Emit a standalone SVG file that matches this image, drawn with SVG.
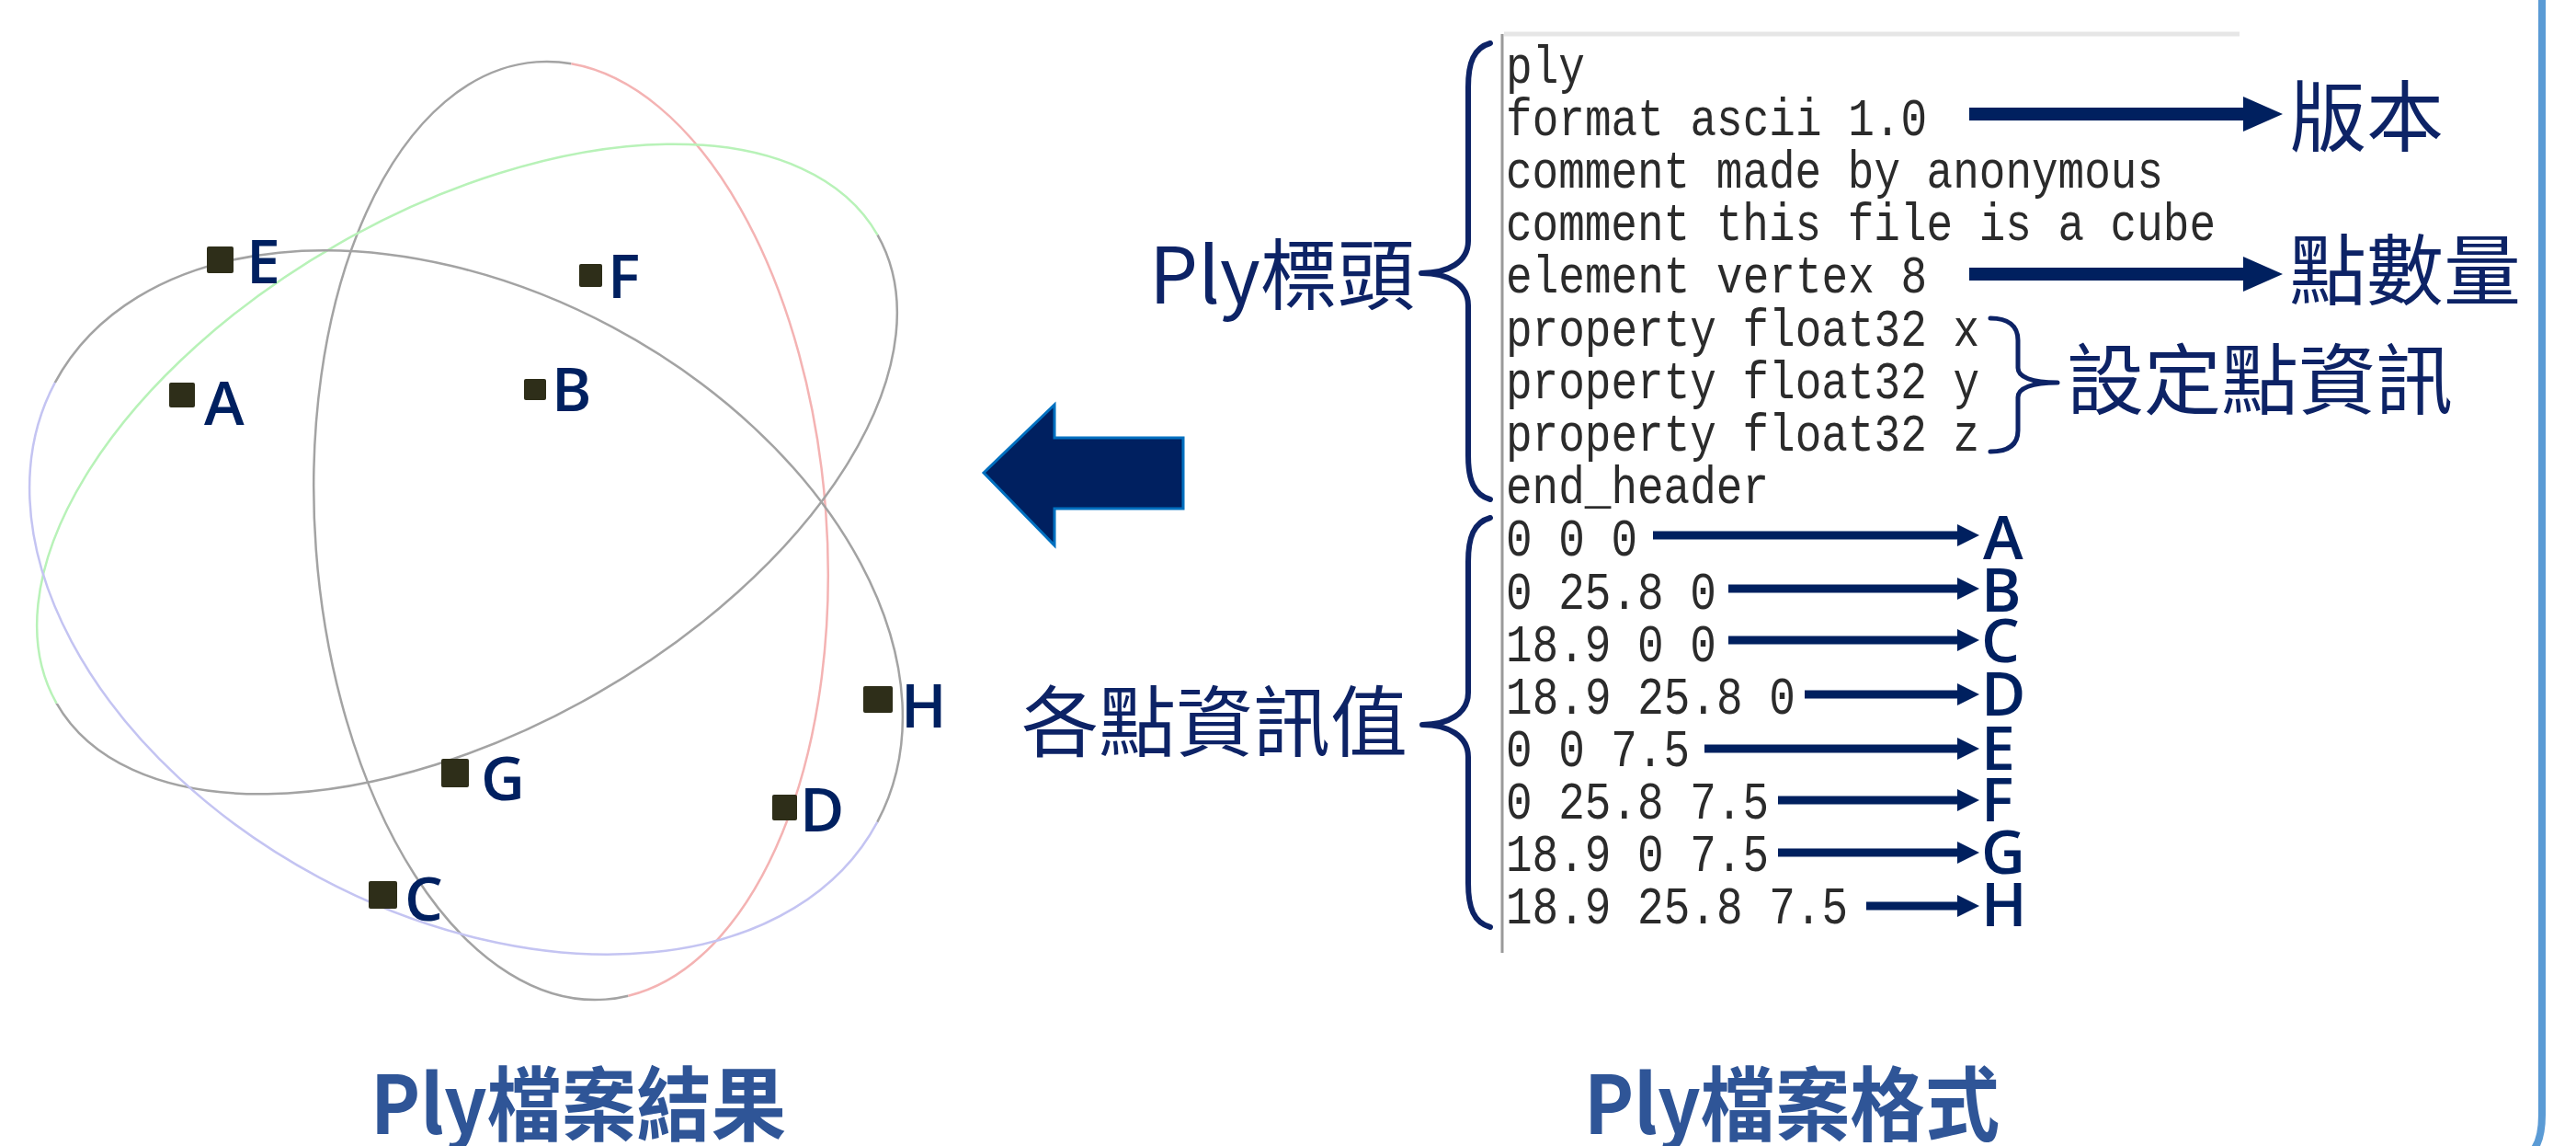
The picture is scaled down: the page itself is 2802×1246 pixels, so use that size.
<svg xmlns="http://www.w3.org/2000/svg" width="2802" height="1246" viewBox="0 0 2802 1246">
<style>
.gray{fill:none;stroke:#a3a3a3;stroke-width:2.5}
.pink{fill:none;stroke:#f4b3b3;stroke-width:2.5}
.green{fill:none;stroke:#b8f2b8;stroke-width:2.5}
.blue{fill:none;stroke:#c4c4f2;stroke-width:2.5}
.pt{fill:#2e2e19}
.lbl{font-family:"Open Sans","Liberation Sans",sans-serif;font-weight:600;font-size:66px;fill:#002060}
.code{font-family:"Liberation Mono","DejaVu Sans Mono",monospace;font-size:58px;fill:#2b2b2b}
.cjk{font-family:"Noto Sans CJK TC","Noto Sans",sans-serif;font-size:84px;fill:#0d2366}
.title{font-family:"Noto Sans CJK TC","Noto Sans",sans-serif;font-weight:700;font-size:88px;fill:#2f5597}
.brace{fill:none;stroke:#0d2366;stroke-width:6;stroke-linecap:round;stroke-linejoin:round}
.thin{stroke:#00205f;stroke-width:9;fill:none}
.thick{stroke:#00205f;stroke-width:14;fill:none}
</style>
<defs>
<marker id="hs" markerUnits="userSpaceOnUse" markerWidth="24" markerHeight="24" viewBox="0 0 24 24" refX="1" refY="12" orient="auto"><path d="M0,0 L24,12 L0,24 z" fill="#00205f"/></marker>
<marker id="hl" markerUnits="userSpaceOnUse" markerWidth="44" markerHeight="40" viewBox="0 0 44 40" refX="1" refY="20" orient="auto"><path d="M0,1 L43,20 L0,39 z" fill="#00205f"/></marker>
</defs>

<g id="trackball">
<g transform="translate(621,577) rotate(-4.2)">
<ellipse class="gray" cx="0" cy="0" rx="278" ry="511" pathLength="100" stroke-dasharray="0 24 52.5 23.5"/>
<ellipse class="pink" cx="0" cy="0" rx="278" ry="511" pathLength="100" stroke-dasharray="24 52.5 23.5"/>
</g>
<g transform="translate(508,510) rotate(-29.7)">
<ellipse class="gray" cx="0" cy="0" rx="514" ry="282" pathLength="100" stroke-dasharray="50 50"/>
<ellipse class="green" cx="0" cy="0" rx="514" ry="282" pathLength="100" stroke-dasharray="0 50 50"/>
</g>
<g transform="translate(507,655) rotate(28.1)">
<ellipse class="gray" cx="0" cy="0" rx="507" ry="339" pathLength="100" stroke-dasharray="0 50 50"/>
<ellipse class="blue" cx="0" cy="0" rx="507" ry="339" pathLength="100" stroke-dasharray="50 50"/>
</g>
</g>

<g id="pA"><rect class="pt" x="184" y="416" width="28" height="27" rx="2"/><text class="lbl" x="222" y="462">A</text></g>
<g id="pB"><rect class="pt" x="570" y="412" width="24" height="23" rx="2"/><text class="lbl" x="600" y="447">B</text></g>
<g id="pC"><rect class="pt" x="401" y="958" width="31" height="30" rx="2"/><text class="lbl" x="440" y="1001">C</text></g>
<g id="pD"><rect class="pt" x="840" y="864" width="27" height="28" rx="2"/><text class="lbl" x="870" y="904">D</text></g>
<g id="pE"><rect class="pt" x="225" y="268" width="29" height="29" rx="2"/><text class="lbl" x="268" y="308">E</text></g>
<g id="pF"><rect class="pt" x="630" y="287" width="25" height="25" rx="2"/><text class="lbl" x="661" y="324">F</text></g>
<g id="pG"><rect class="pt" x="480" y="825" width="30" height="31" rx="2"/><text class="lbl" x="523" y="870">G</text></g>
<g id="pH"><rect class="pt" x="939" y="746" width="32" height="29" rx="2"/><text class="lbl" x="980" y="791">H</text></g>

<g id="bigArrow"><path d="M1070,514 L1147,440 L1147,476 L1287,476 L1287,553 L1147,553 L1147,593 Z" fill="#002060" stroke="#0070c0" stroke-width="3" stroke-linejoin="miter"/></g>

<g id="fileBox">
<line x1="1636" y1="37" x2="2436" y2="37" stroke="#e6e6e6" stroke-width="5"/>
<line x1="1634" y1="37" x2="1634" y2="1036" stroke="#9a9a9a" stroke-width="3"/>
<text class="code" x="1638" y="90" textLength="86" lengthAdjust="spacingAndGlyphs">ply</text>
<text class="code" x="1638" y="147" textLength="458" lengthAdjust="spacingAndGlyphs">format ascii 1.0</text>
<text class="code" x="1638" y="204" textLength="715" lengthAdjust="spacingAndGlyphs">comment made by anonymous</text>
<text class="code" x="1638" y="261" textLength="772" lengthAdjust="spacingAndGlyphs">comment this file is a cube</text>
<text class="code" x="1638" y="318" textLength="458" lengthAdjust="spacingAndGlyphs">element vertex 8</text>
<text class="code" x="1638" y="376" textLength="515" lengthAdjust="spacingAndGlyphs">property float32 x</text>
<text class="code" x="1638" y="433" textLength="515" lengthAdjust="spacingAndGlyphs">property float32 y</text>
<text class="code" x="1638" y="490" textLength="515" lengthAdjust="spacingAndGlyphs">property float32 z</text>
<text class="code" x="1638" y="547" textLength="286" lengthAdjust="spacingAndGlyphs">end_header</text>
<text class="code" x="1638" y="604" textLength="143" lengthAdjust="spacingAndGlyphs">0 0 0</text>
<text class="code" x="1638" y="662" textLength="229" lengthAdjust="spacingAndGlyphs">0 25.8 0</text>
<text class="code" x="1638" y="719" textLength="229" lengthAdjust="spacingAndGlyphs">18.9 0 0</text>
<text class="code" x="1638" y="776" textLength="315" lengthAdjust="spacingAndGlyphs">18.9 25.8 0</text>
<text class="code" x="1638" y="833" textLength="200" lengthAdjust="spacingAndGlyphs">0 0 7.5</text>
<text class="code" x="1638" y="890" textLength="286" lengthAdjust="spacingAndGlyphs">0 25.8 7.5</text>
<text class="code" x="1638" y="947" textLength="286" lengthAdjust="spacingAndGlyphs">18.9 0 7.5</text>
<text class="code" x="1638" y="1004" textLength="372" lengthAdjust="spacingAndGlyphs">18.9 25.8 7.5</text>
</g>

<g id="headerBrace"><path class="brace" d="M1621,47 C1603,52 1597,68 1597,95 L1597,262 C1597,285 1575,297 1546,297 C1575,297 1597,309 1597,332 L1597,495 C1597,522 1603,538 1621,543"/><text class="cjk" x="1250" y="330">Ply標頭</text></g>
<g id="dataBrace"><path class="brace" d="M1621,563 C1603,568 1597,584 1597,611 L1597,753 C1597,776 1575,788 1547,788 C1575,788 1597,800 1597,823 L1597,960 C1597,987 1603,1003 1621,1008"/><text class="cjk" x="1111" y="816">各點資訊值</text></g>
<g id="propBrace"><path class="brace" style="stroke-width:5" d="M2165,346 C2184,346 2195,354 2195,370 L2195,400 C2195,410 2210,416 2238,416 C2210,416 2195,422 2195,432 L2195,468 C2195,484 2184,491 2165,491"/><text class="cjk" x="2248" y="444">設定點資訊</text></g>
<g id="version"><text class="cjk" x="2490" y="158">版本</text></g>
<g id="count"><text class="cjk" x="2490" y="325">點數量</text></g>

<g id="letters">
<text class="lbl" x="2157" y="608">A</text>
<text class="lbl" x="2155" y="665">B</text>
<text class="lbl" x="2155" y="720">C</text>
<text class="lbl" x="2155" y="778">D</text>
<text class="lbl" x="2155" y="837">E</text>
<text class="lbl" x="2155" y="893">F</text>
<text class="lbl" x="2155" y="950">G</text>
<text class="lbl" x="2155" y="1007">H</text>
</g>

<g id="connectors">
<line class="thick" x1="2142" y1="124" x2="2441" y2="124" marker-end="url(#hl)"/>
<line class="thick" x1="2142" y1="298" x2="2441" y2="298" marker-end="url(#hl)"/>
<line class="thin" x1="1798" y1="582" x2="2130" y2="582" marker-end="url(#hs)"/>
<line class="thin" x1="1880" y1="640" x2="2130" y2="640" marker-end="url(#hs)"/>
<line class="thin" x1="1880" y1="696" x2="2130" y2="696" marker-end="url(#hs)"/>
<line class="thin" x1="1963" y1="755" x2="2130" y2="755" marker-end="url(#hs)"/>
<line class="thin" x1="1854" y1="814" x2="2130" y2="814" marker-end="url(#hs)"/>
<line class="thin" x1="1934" y1="870" x2="2130" y2="870" marker-end="url(#hs)"/>
<line class="thin" x1="1934" y1="927" x2="2130" y2="927" marker-end="url(#hs)"/>
<line class="thin" x1="2030" y1="985" x2="2130" y2="985" marker-end="url(#hs)"/>
</g>

<g id="titles">
<text class="title" x="403" y="1233" textLength="452" lengthAdjust="spacingAndGlyphs">Ply檔案結果</text>
<text class="title" x="1723" y="1233" textLength="452" lengthAdjust="spacingAndGlyphs">Ply檔案格式</text>
</g>

<path d="M2765,0 L2765,1212 Q2765,1238 2756,1250" fill="none" stroke="#5b9bd5" stroke-width="8"/>
</svg>
